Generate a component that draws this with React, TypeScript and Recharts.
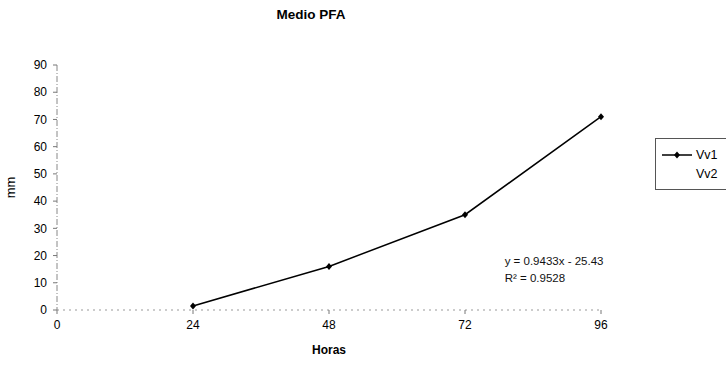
import React from 'react';
import {
  LineChart,
  Line,
  XAxis,
  YAxis,
  ReferenceDot,
} from 'recharts';

const horas = [24, 48, 72, 96];
const vv1 = [1.5, 16, 35, 71];
const xTicks = [0, 24, 48, 72, 96];
const yTicks = [0, 10, 20, 30, 40, 50, 60, 70, 80, 90];
const seriesNames = ['Vv1', 'Vv2'];
const trendEquation = 'y = 0.9433x - 25.43';
const trendR2 = 'R² = 0.9528';

const data = horas.map((h, i) => ({ horas: h, vv1: vv1[i] }));

const FONT = '"Liberation Sans", Arial, sans-serif';

const Diamond = (props: any) => {
  const { cx, cy } = props;
  if (cx == null || cy == null) return null;
  return (
    <path
      d={`M${cx},${cy - 3.5} L${cx + 3},${cy} L${cx},${cy + 3.5} L${cx - 3},${cy} Z`}
      fill="#000"
    />
  );
};

const TrendLabel = (props: any) => {
  const { viewBox } = props;
  const x = viewBox?.x ?? 0;
  const y = viewBox?.y ?? 0;
  return (
    <g fontFamily={FONT} fontSize={11.5} fill="#111">
      <text x={x} y={y}>{trendEquation}</text>
      <text x={x} y={y + 17}>{trendR2}</text>
    </g>
  );
};

// legend sits outside the plot, clipped by the right edge
const LegendBox = () => (
  <div
    style={{
      position: 'absolute',
      left: 655,
      top: 138,
      border: '1px solid #555',
      borderRight: 'none',
      width: 90,
      height: 52,
      background: '#fff',
      fontFamily: FONT,
      fontSize: 12.5,
      boxSizing: 'border-box',
      padding: '6px 0 0 6px',
    }}
  >
    <div style={{ display: 'flex', alignItems: 'center', height: 19 }}>
      <svg width={30} height={10}>
        <line x1={0} y1={5} x2={30} y2={5} stroke="#000" strokeWidth={1.5} />
        <path d="M15,1.5 L18,5 L15,8.5 L12,5 Z" fill="#000" />
      </svg>
      <span style={{ marginLeft: 4 }}>{seriesNames[0]}</span>
    </div>
    <div style={{ display: 'flex', alignItems: 'center', height: 19 }}>
      <span style={{ marginLeft: 34 }}>{seriesNames[1]}</span>
    </div>
  </div>
);

export default function App() {
  return (
    <div style={{ position: 'relative', width: 726, height: 368, background: '#fff', overflow: 'hidden' }}>
      <style>{'body{margin:0}'}</style>
      <div
        style={{
          position: 'absolute',
          top: 7,
          left: 0,
          width: 622,
          textAlign: 'center',
          fontFamily: FONT,
          fontWeight: 'bold',
          fontSize: 13.5,
        }}
      >
        Medio PFA
      </div>
      <LineChart
        width={726}
        height={368}
        data={data}
        margin={{ top: 65, right: 125, left: 0, bottom: 0 }}
      >
        <XAxis
          dataKey="horas"
          type="number"
          domain={[0, 96]}
          ticks={xTicks}
          height={58}
          stroke="#999"
          strokeDasharray="2 4"
          tickLine={{ stroke: '#777', strokeDasharray: '' }}
          tickSize={4}
          tick={{ fill: '#000', fontSize: 12, fontFamily: FONT }}
          tickMargin={6}
          label={{
            value: 'Horas',
            position: 'insideBottom',
            offset: 14,
            style: { fontFamily: FONT, fontSize: 12, fontWeight: 'bold', fill: '#000' },
          }}
        />
        <YAxis
          type="number"
          domain={[0, 90]}
          ticks={yTicks}
          width={57}
          stroke="#888"
          strokeDasharray="6 2 1 2"
          tickLine={{ stroke: '#777', strokeDasharray: '' }}
          tickSize={4}
          tick={{ fill: '#000', fontSize: 12, fontFamily: FONT }}
          tickMargin={6}
          label={{
            value: 'mm',
            angle: -90,
            position: 'insideLeft',
            offset: 10,
            style: { fontFamily: FONT, fontSize: 13, fill: '#000', textAnchor: 'middle' },
          }}
        />
        <Line
          dataKey="vv1"
          name={seriesNames[0]}
          stroke="#000"
          strokeWidth={1.5}
          dot={<Diamond />}
          activeDot={false}
          isAnimationActive={false}
        />
        <ReferenceDot
          x={79}
          y={16.5}
          r={0}
          fill="none"
          stroke="none"
          label={<TrendLabel />}
        />
      </LineChart>
      <LegendBox />
    </div>
  );
}
